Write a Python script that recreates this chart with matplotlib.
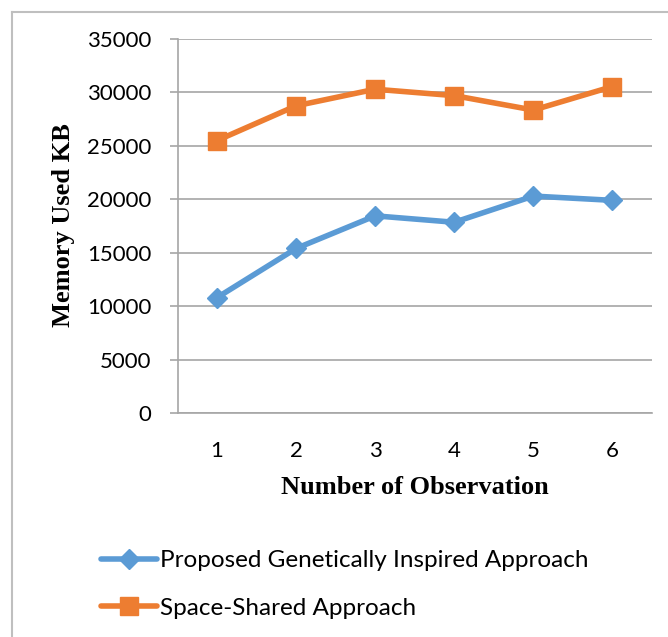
import matplotlib
matplotlib.use("Agg")
import matplotlib.pyplot as plt
from matplotlib.lines import Line2D

observations = [1, 2, 3, 4, 5, 6]
genetic_kb = [10800, 15400, 18450, 17850, 20300, 19900]
space_shared_kb = [25500, 28750, 30300, 29700, 28350, 30550]
y_ticks = [0, 5000, 10000, 15000, 20000, 25000, 30000, 35000]

BLUE = "#5B9BD5"
ORANGE = "#ED7D31"
GRID = "#A6A6A6"


def make_chart():
    fig = plt.figure(figsize=(6.68, 6.37), dpi=100)

    # outer frame of the chart area (left and top edges are visible)
    fig.add_artist(Line2D([12 / 668, 12 / 668], [0, 1 - 12 / 637],
                          transform=fig.transFigure, color="#BFBFBF", lw=1.5))
    fig.add_artist(Line2D([12 / 668, 1], [1 - 12 / 637, 1 - 12 / 637],
                          transform=fig.transFigure, color="#BFBFBF", lw=1.5))

    ax = fig.add_axes([177.5 / 668, 1 - 413 / 637, 474.5 / 668, 374 / 637])

    ax.plot(observations, genetic_kb, color=BLUE, lw=4, marker="D",
            ms=10, solid_capstyle="round", solid_joinstyle="round",
            label="Proposed Genetically Inspired Approach", zorder=3)
    ax.plot(observations, space_shared_kb, color=ORANGE, lw=4, marker="s",
            ms=13.5, solid_capstyle="round", solid_joinstyle="round",
            label="Space-Shared Approach", zorder=3)

    ax.set_xlim(0.5, 6.5)
    ax.set_ylim(0, 35000)
    ax.set_yticks(y_ticks)
    ax.set_xticks(observations)
    ax.yaxis.grid(True, color=GRID, lw=1.2)
    ax.set_axisbelow(True)

    for side in ["top", "right"]:
        ax.spines[side].set_visible(False)
    ax.spines["left"].set_color(GRID)
    ax.spines["bottom"].set_color(GRID)
    ax.spines["left"].set_linewidth(1.2)
    ax.spines["bottom"].set_linewidth(1.2)

    ax.tick_params(axis="y", length=6, width=1.2, color=GRID, pad=13,
                   labelsize=16, labelfontfamily="Lato")
    ax.tick_params(axis="x", length=0, pad=20,
                   labelsize=16, labelfontfamily="Lato")

    ax.set_xlabel("Number of Observation", family="Liberation Serif",
                  weight="bold", fontsize=19, va="center")
    ax.xaxis.set_label_coords(0.5, -0.2)
    ax.set_ylabel("Memory Used KB", family="Liberation Serif",
                  weight="bold", fontsize=19, va="center")
    ax.yaxis.set_label_coords(-0.241, 0.503)

    fig.legend(loc="upper left", bbox_to_anchor=(101 / 668, 1 - 550 / 637),
               frameon=False, prop={"family": "Lato", "size": 17.5},
               handlelength=2.3, handletextpad=0.12, labelspacing=1.1,
               borderaxespad=0, borderpad=0)

    fig.savefig("out.png", dpi=100)


def main():
    make_chart()


if __name__ == "__main__":
    main()
